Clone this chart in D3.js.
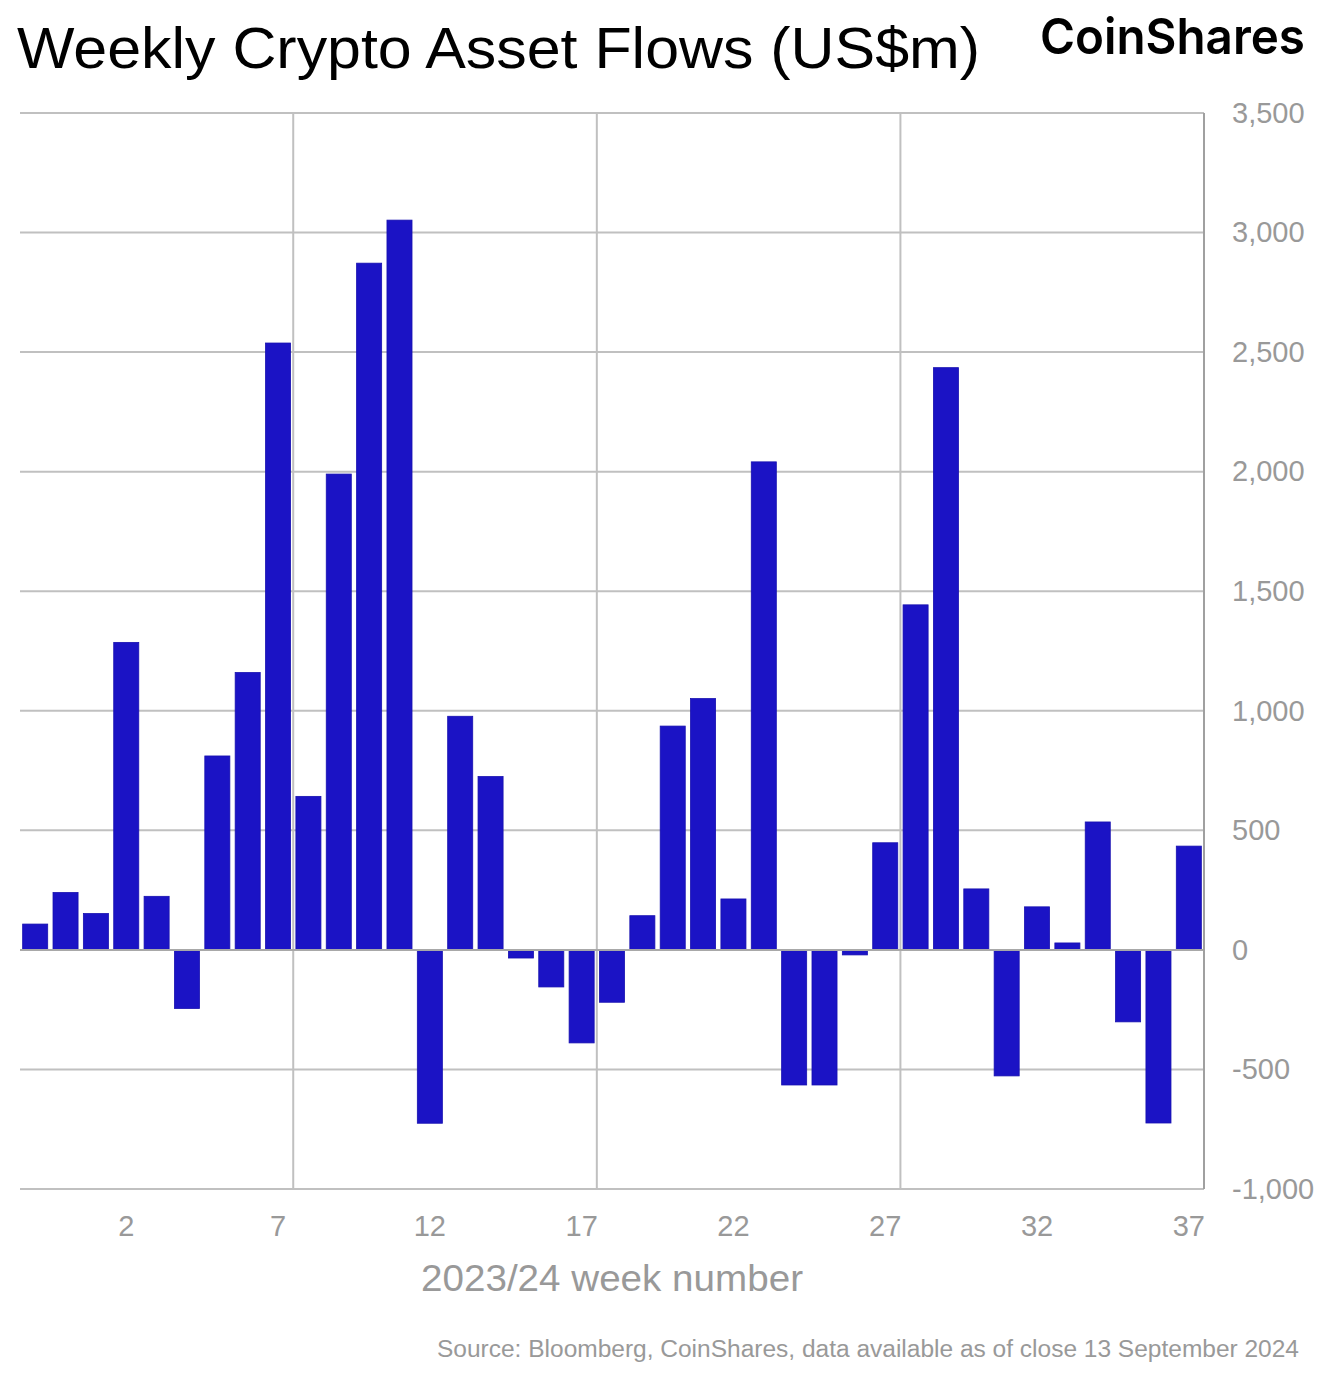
<!DOCTYPE html>
<html>
<head>
<meta charset="utf-8">
<script src="https://cdn.jsdelivr.net/npm/d3@7"></script>
<style>
html,body{margin:0;padding:0;background:#fff;}
svg{display:block;}
</style>
</head>
<body>
<svg id="chart" width="1324" height="1374"></svg>
<script>
const weeks = ["51","52","1","2","3","4","5","6","7","8","9","10","11","12","13","14","15","16","17","18","19","20","21","22","23","24","25","26","27","28","29","30","31","32","33","34","35","36","37"];
const flows = [108, 240, 152, 1286, 224, -245, 811, 1160, 2538, 642, 1990, 2872, 3052, -725, 977, 725, -34, -155, -389, -219, 143, 936, 1051, 213, 2041, -565, -565, -21, 448, 1443, 2435, 255, -527, 180, 29, 535, -301, -724, 434];
const yTicks = [-1000, -500, 0, 500, 1000, 1500, 2000, 2500, 3000, 3500];
const xTickLabels = ["2","7","12","17","22","27","32","37"];
const xGridAfter = ["7","17","27"];

const svg = d3.select("#chart");
const plotL = 20, plotR = 1204, plotT = 113, plotB = 1189;
const FONT = "Liberation Sans, Arial, Helvetica, sans-serif";

const x = d3.scaleBand().domain(weeks).range([plotL, plotR]).paddingInner(0.175).paddingOuter(0.0875);
const y = d3.scaleLinear().domain([-1000, 3500]).range([plotB, plotT]);

const grid = "#c0c0c0";
// horizontal gridlines
svg.append("g").selectAll("line").data(yTicks).join("line")
  .attr("x1", plotL).attr("x2", plotR)
  .attr("y1", d => y(d)).attr("y2", d => y(d))
  .attr("stroke", grid).attr("stroke-width", 2);

// vertical gridlines
const gap = x.step() - x.bandwidth();
svg.append("g").selectAll("line").data(xGridAfter).join("line")
  .attr("x1", d => x(d) + x.bandwidth() + gap / 2)
  .attr("x2", d => x(d) + x.bandwidth() + gap / 2)
  .attr("y1", plotT).attr("y2", plotB)
  .attr("stroke", grid).attr("stroke-width", 2);

// bars
svg.append("g").selectAll("rect").data(weeks).join("rect")
  .attr("x", d => x(d))
  .attr("width", x.bandwidth())
  .attr("y", (d, i) => y(Math.max(0, flows[i])))
  .attr("height", (d, i) => Math.abs(y(flows[i]) - y(0)))
  .attr("fill", "#1b13c5")
  .attr("stroke", "#1710b0").attr("stroke-width", 0.8);

// zero line
svg.append("line").attr("x1", plotL).attr("x2", plotR)
  .attr("y1", y(0)).attr("y2", y(0))
  .attr("stroke", "#a8a8a8").attr("stroke-width", 2);

// right axis line
svg.append("line").attr("x1", plotR).attr("x2", plotR)
  .attr("y1", plotT).attr("y2", plotB)
  .attr("stroke", "#a0a0a0").attr("stroke-width", 2);

// y axis labels (right)
const fmt = d3.format(",");
const yAxis = d3.axisRight(y).tickValues(yTicks).tickSize(0).tickPadding(28)
  .tickFormat(d => fmt(d).replace("\u2212", "-"));
const ya = svg.append("g").attr("transform", `translate(${plotR},0)`).call(yAxis);
ya.select(".domain").remove();
ya.selectAll("text").attr("fill", "#999").style("font-family", FONT).style("font-size", "29px");

// x axis labels
const xAxis = d3.axisBottom(x).tickValues(xTickLabels).tickSize(0).tickPadding(26);
const xa = svg.append("g").attr("transform", `translate(0,${plotB})`).call(xAxis);
xa.select(".domain").remove();
xa.selectAll("text").attr("fill", "#999").style("font-family", FONT).style("font-size", "29px");

// x axis title
svg.append("text").attr("x", (plotL + plotR) / 2).attr("y", 1291)
  .attr("text-anchor", "middle").attr("fill", "#999")
  .style("font-family", FONT).style("font-size", "37px")
  .attr("textLength", 382).attr("lengthAdjust", "spacingAndGlyphs")
  .text("2023/24 week number");

// title
svg.append("text").attr("x", 17).attr("y", 68)
  .attr("fill", "#000")
  .style("font-family", FONT).style("font-size", "57px")
  .attr("textLength", 963).attr("lengthAdjust", "spacingAndGlyphs")
  .text("Weekly Crypto Asset Flows (US$m)");

// logo
svg.append("text").attr("x", 1040).attr("y", 54)
  .attr("fill", "#000")
  .style("font-family", "Inter, Liberation Sans, sans-serif").style("font-size", "50px").style("font-weight", "600")
  .attr("textLength", 265).attr("lengthAdjust", "spacingAndGlyphs")
  .text("CoinShares");

// source
svg.append("text").attr("x", 437).attr("y", 1357)
  .attr("fill", "#999")
  .style("font-family", FONT).style("font-size", "23px")
  .attr("textLength", 862).attr("lengthAdjust", "spacingAndGlyphs")
  .text("Source: Bloomberg, CoinShares, data available as of close 13 September 2024");
</script>
</body>
</html>
